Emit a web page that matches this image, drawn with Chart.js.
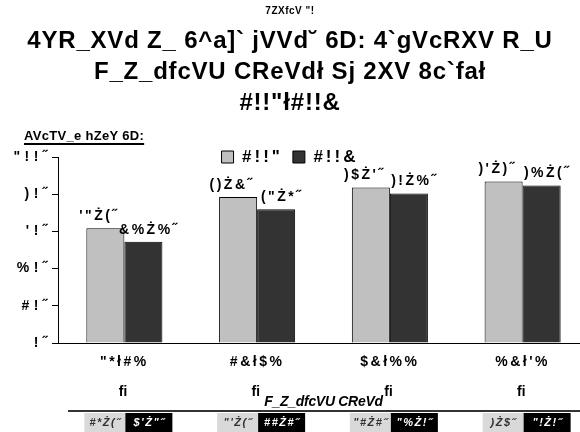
<!DOCTYPE html>
<html>
<head>
<meta charset="utf-8">
<script src="https://cdn.jsdelivr.net/npm/chart.js@4.4.1/dist/chart.umd.min.js"></script>
<style>
    html, body { margin: 0; padding: 0; overflow: hidden; background: #fff; }
    #wrap { position: relative; width: 600px; height: 432px; margin-left: -9px; }
</style>
</head>
<body>
<div id="wrap"><canvas id="chart" width="600" height="432"></canvas></div>
<script>
// chart data
const categories = [['"*ł#%', 'ﬁ'], ['#&ł$%', 'ﬁ'], ['$&ł%%', 'ﬁ'], ['%&ł\'%', 'ﬁ']];
const series2001 = [61.7, 78.5, 83.6, 86.8];
const series2005 = [54.4, 71.9, 80.4, 84.7];
const labels2001 = ['\'"Ż(˝', '()Ż&˝', ')$Ż\'˝', ')\'Ż)˝'];
const labels2005 = ['&%Ż%˝', '("Ż*˝', ')!Ż%˝', ')%Ż(˝'];
const yTickLabels = ['!˝', '#!˝', '%!˝', '\'!˝', ')!˝', '"!!˝'];
const tableLeft = ['#*Ż(˝', '"\'Ż(˝', '"#Ż#˝', ')Ż$˝'];
const tableRight = ['$\'Ż"˝', '##Ż#˝', '"%Ż!˝', '"!Ż!˝'];

const FONT = '"Liberation Sans", Arial, sans-serif';
Chart.defaults.font.family = FONT;
Chart.defaults.color = '#000';

// the original text is widely spaced, so wrap some draw calls with letter spacing
function spaced(obj, name, px) {
    const fn = obj[name];
    obj[name] = function () {
        const c = this.ctx;
        const prev = c.letterSpacing;
        c.letterSpacing = px;
        const r = fn.apply(this, arguments);
        c.letterSpacing = prev;
        return r;
    };
}

const extras = {
    id: 'extras',
    afterInit(chart) {
        chart.ctx.letterSpacing = '0.8px';
        if (chart.legend) {
            spaced(chart.legend, 'fit', '3px');
            spaced(chart.legend, 'draw', '3px');
        }
        if (chart.titleBlock) spaced(chart.titleBlock, 'draw', '0.5px');
    },
    beforeUpdate(chart) {
        chart.ctx.letterSpacing = '0.8px';
    },
    afterLayout(chart) {
        // legend sits level with the top of the value axis
        const lg = chart.legend;
        const shift = chart.chartArea.top - (lg.top + lg.height / 2);
        lg.top += shift;
        lg.bottom += shift;

        const ys = chart.scales.y, xs = chart.scales.x;
        if (!ys._spaced) { spaced(ys, 'drawLabels', '4.5px'); ys._spaced = true; }
        if (!xs._spaced) {
            spaced(xs, 'drawLabels', '2.5px');
            spaced(xs, 'drawTitle', '-0.3px');
            xs._spaced = true;
        }
    },
    beforeDraw(chart) {
        chart.ctx.letterSpacing = '0.8px';
    },
    afterDatasetsDraw(chart) {
        const ctx = chart.ctx;
        ctx.save();
        ctx.letterSpacing = '2.5px';
        ctx.font = 'bold 14px ' + FONT;
        ctx.fillStyle = '#000';
        ctx.textAlign = 'center';
        ctx.textBaseline = 'middle';
        [labels2001, labels2005].forEach((texts, di) => {
            chart.getDatasetMeta(di).data.forEach((bar, i) => {
                ctx.fillText(texts[i], bar.x + (di ? 6 : -6), bar.y - 12);
            });
        });
        ctx.restore();
    },
    afterDraw(chart) {
        const ctx = chart.ctx;
        const area = chart.chartArea;
        const xs = chart.scales.x;
        ctx.save();

        // y axis caption, underlined
        const capX = area.left - 34, capY = area.top - 21;
        ctx.letterSpacing = '0.3px';
        ctx.font = 'bold 13px ' + FONT;
        ctx.textAlign = 'left';
        ctx.textBaseline = 'middle';
        ctx.fillStyle = '#000';
        const cap = 'AVcTV_e hZeY 6D:';
        ctx.fillText(cap, capX, capY);
        ctx.fillRect(capX, capY + 7, ctx.measureText(cap).width, 2);

        // table under the axis title
        const top = xs.bottom + 2;
        ctx.fillStyle = '#333';
        ctx.fillRect(area.left + 10, xs.bottom - 1, chart.width, 2);
        ctx.letterSpacing = '1.5px';
        ctx.font = 'italic bold 11px ' + FONT;
        ctx.textAlign = 'center';
        categories.forEach((c, i) => {
            const cx = xs.getPixelForValue(i);
            ctx.fillStyle = '#d9d9d9';
            ctx.fillRect(cx - 40, top, 41, 20);
            ctx.fillStyle = '#000';
            ctx.fillRect(cx + 1, top, 47, 20);
            ctx.fillStyle = '#333';
            ctx.fillText(tableLeft[i], cx - 19, top + 10);
            ctx.fillStyle = '#fff';
            ctx.fillText(tableRight[i], cx + 25, top + 10);
        });
        ctx.restore();
    }
};

new Chart(document.getElementById('chart'), {
    type: 'bar',
    data: {
        labels: categories,
        datasets: [
            {
                label: '#!!"',
                data: series2001,
                backgroundColor: '#c0c0c0',
                borderColor: '#000',
                borderWidth: 1,
                categoryPercentage: 0.573,
                barPercentage: 1
            },
            {
                label: '#!!&',
                data: series2005,
                backgroundColor: '#333333',
                borderColor: '#000',
                borderWidth: 1,
                categoryPercentage: 0.573,
                barPercentage: 1
            }
        ]
    },
    options: {
        responsive: false,
        animation: false,
        layout: { padding: { left: 0, right: 2, top: 0, bottom: 21 } },
        plugins: {
            tooltip: { enabled: false },
            title: {
                display: true,
                text: '7ZXfcV "!',
                color: '#000',
                font: { size: 10, weight: 'bold', lineHeight: 1.2 },
                padding: { top: 5, bottom: 9 }
            },
            subtitle: {
                display: true,
                text: ['4YR_XVd Z_ 6^a]` jVVd˘ 6D: 4`gVcRXV R_U', 'F_Z_dfcVU CReVdł Sj 2XV 8c`fał', '#!!"ł#!!&'],
                color: '#000',
                font: { size: 24, weight: 'bold', lineHeight: 31 / 24 },
                padding: { top: 0, bottom: 1 }
            },
            legend: {
                position: 'top',
                labels: {
                    color: '#000',
                    font: { size: 17, weight: 'bold' },
                    boxWidth: 12,
                    boxHeight: 12,
                    padding: 10
                }
            }
        },
        scales: {
            x: {
                grid: { display: false, drawTicks: false },
                border: { display: true, color: '#000', width: 1 },
                ticks: { color: '#000', padding: 4, font: { size: 14, weight: 'bold', lineHeight: 30 / 14 } },
                title: {
                    display: true,
                    text: 'F_Z_dfcVU CReVd',
                    color: '#000',
                    font: { size: 14, weight: 'bold', style: 'italic', lineHeight: 1.2 },
                    padding: { top: 0, bottom: 0 }
                },
                afterFit(scale) { scale.height = 68; }
            },
            y: {
                min: 0,
                max: 100,
                ticks: {
                    stepSize: 20,
                    padding: 0,
                    color: '#000',
                    font: { size: 14, weight: 'bold' },
                    callback: (v, i) => yTickLabels[i]
                },
                grid: { drawOnChartArea: false, drawTicks: true, tickLength: 6, color: '#000' },
                border: { display: true, color: '#000', width: 1 },
                afterFit(scale) { scale.width = 67; }
            }
        }
    },
    plugins: [extras]
});
</script>
</body>
</html>
